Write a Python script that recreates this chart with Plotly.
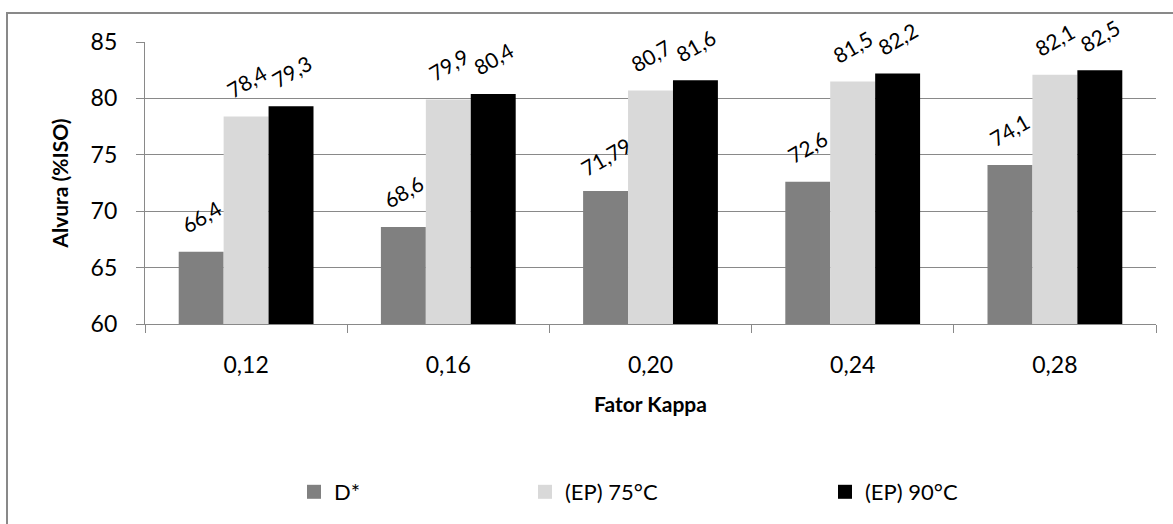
import plotly.graph_objects as go

# Data: brightness (%ISO) by kappa factor
kappa = ["0,12", "0,16", "0,20", "0,24", "0,28"]
d_star = [66.4, 68.6, 71.79, 72.6, 74.1]
ep_75 = [78.4, 79.9, 80.7, 81.5, 82.1]
ep_90 = [79.3, 80.4, 81.6, 82.2, 82.5]
series_names = ["D*", "(EP) 75°C", "(EP) 90°C"]
y_ticks = [60, 65, 70, 75, 80, 85]

series_values = [d_star, ep_75, ep_90]
colors = ["#808080", "#D9D9D9", "#000000"]

W, H = 1173, 524
ML, MR, MT, MB = 145, 17, 42, 199
PW, PH = W - ML - MR, H - MT - MB
BARGAP = 1 / 3
FONT = "Lato"
GRID = "#898989"


def fmt(v):
    return f"{v:g}".replace(".", ",")


fig = go.Figure()
for name, vals, col in zip(series_names, series_values, colors):
    fig.add_trace(go.Bar(x=kappa, y=vals, name=name, marker=dict(color=col, line=dict(width=0)),
                         showlegend=False))

# Rotated value labels above each bar
n = len(series_values)
bar_w = (1 - BARGAP) / n
annotations = []
for j, vals in enumerate(series_values):
    for i, v in enumerate(vals):
        annotations.append(dict(
            x=i + (j - (n - 1) / 2) * bar_w, y=v, xref="x", yref="y",
            text=fmt(v), showarrow=False, textangle=-30,
            xanchor="center", yanchor="middle", yshift=35,
            font=dict(family=FONT, size=21, color="black"),
        ))

# Legend entries, one legend per series for independent placement
legend_px = [311, 542, 842]
for k, (name, col) in enumerate(zip(series_names, colors)):
    lg = "legend" if k == 0 else f"legend{k + 1}"
    fig.add_trace(go.Scatter(x=[None], y=[None], mode="markers", name=name,
                             marker=dict(symbol="square", size=14, color=col),
                             legend=lg, showlegend=True))

legend_common = dict(orientation="h", yanchor="middle", xanchor="left",
                     bgcolor="rgba(0,0,0,0)", borderwidth=0, itemsizing="trace",
                     font=dict(family=FONT, size=22, color="black"))
legend_layout = {}
for k, px in enumerate(legend_px):
    key = "legend" if k == 0 else f"legend{k + 1}"
    legend_layout[key] = dict(legend_common, x=(px - 17 - ML) / PW, y=(MT + PH - 492) / PH)

fig.update_layout(
    width=W, height=H,
    margin=dict(l=ML, r=MR, t=MT, b=MB),
    paper_bgcolor="white", plot_bgcolor="white",
    barmode="group", bargap=BARGAP, bargroupgap=0,
    font=dict(family=FONT, size=23, color="black"),
    annotations=annotations,
    xaxis=dict(
        type="category", showline=True, linecolor=GRID, linewidth=1.3,
        ticks="outside", tickson="boundaries", ticklen=8, tickcolor=GRID, tickwidth=1.3,
        ticklabelstandoff=20, tickfont=dict(family=FONT, size=23),
        title=dict(text="<b>Fator Kappa</b>", font=dict(family=FONT, size=21), standoff=20),
        showgrid=False,
    ),
    yaxis=dict(
        range=[60, 85], tickvals=y_ticks, showgrid=True, gridcolor=GRID, gridwidth=1.3,
        showline=True, linecolor=GRID, linewidth=1.3, ticks="outside", ticklen=8,
        tickcolor=GRID, tickwidth=1.3, ticklabelstandoff=14, zeroline=False,
        tickfont=dict(family=FONT, size=23),
        title=dict(text="<b>Alvura (%ISO)</b>", font=dict(family=FONT, size=21), standoff=16),
    ),
    shapes=[dict(type="rect", xref="paper", yref="paper",
                 x0=(7 - ML) / PW, x1=(W + 10 - ML) / PW,
                 y0=(MT + PH - (H + 10)) / PH, y1=(MT + PH - 13) / PH,
                 line=dict(color=GRID, width=2), fillcolor="rgba(0,0,0,0)", layer="below")],
    **legend_layout,
)

fig.write_html("out.html")
